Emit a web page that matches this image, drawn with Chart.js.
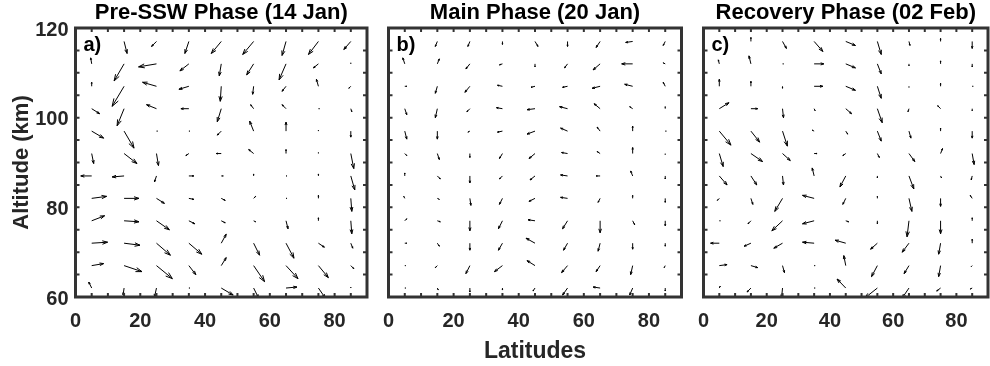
<!DOCTYPE html>
<html>
  <head>
    <title>Meridional circulation - quiver panels</title>
    <script src="https://cdn.jsdelivr.net/npm/chart.js"></script>
    <style>
      html,
      body {
        margin: 0;
        padding: 0;
        background: #ffffff;
        overflow: hidden;
      }
      canvas {
        position: absolute;
        left: 0;
        top: 0;
      }
    </style>
  </head>
  <body>
    <canvas id="chartA" width="1000" height="366"></canvas>
    <canvas id="chartB" width="1000" height="366"></canvas>
    <canvas id="chartC" width="1000" height="366"></canvas>

    <script>
      // grid of the vectors
      const latitudes = [5, 15, 25, 35, 45, 55, 65, 75, 85];
      const altitudes = [117, 112, 107, 102, 97, 92, 87, 82, 77, 72, 67, 62];
      const xTickLabels = [0, 20, 40, 60, 80];
      const yTickLabels = [60, 80, 100, 120];

      // meridional (u, +poleward) and vertical (w, +up) components, rows top -> bottom
      const preU = [
        [0, 3, -5, -4, -10, -11, -4, -10, -7],
        [-1, -10, -18, -9, -2, -7, -7, -5, 0],
        [0, -12, -14, -10, -1, -1, -4, -2, -2],
        [8, -7, -10, -8, -4, -3, -4, 1, 1],
        [12, 10, 1, 1, -4, -4, 0, 0, 0],
        [2, 13, 2, -3, -5, -5, 0, 0, 3],
        [-11, -12, -2, 5, 2, 0, 1, 0, 4],
        [15, 15, 8, 5, 4, 2, 1, 0, 1],
        [13, 15, 13, 6, 4, 2, 2, 0, 1],
        [16, 16, 14, 13, 5, 6, 8, 6, 2],
        [12, 18, 16, 7, 5, 11, 12, 10, 3],
        [-3, -1, -2, 1, 12, 5, 11, 7, 0],
      ];
      const preW = [
        [0, -12, -5, -12, -12, -13, -14, -13, -8],
        [6, -17, -3, -7, -12, -11, -16, -4, 1],
        [4, -20, 4, -3, -15, -8, -5, 7, -2],
        [-5, -17, 4, 0, -13, 4, 4, 0, -3],
        [-7, -17, 0, 0, -4, 10, 9, 1, -6],
        [-10, -10, -12, -2, 0, 4, 4, 1, -15],
        [0, -1, -6, 0, 0, 2, 0, 2, -14],
        [2, 0, -5, -1, -2, 2, 0, 3, -13],
        [5, -1, -9, -3, -2, -1, -8, 3, -13],
        [1, -2, -12, -11, 9, -12, -15, -4, -5],
        [2, -6, -13, -9, 8, -16, -13, -12, -3],
        [6, -7, -9, 0, -7, -10, 1, -10, 1],
      ];

      const mainU = [
        [0, -2, -2, 0, 3, 0, -4, -7, -2],
        [-2, 2, -4, -3, 0, -3, -7, -11, -2],
        [2, -2, -5, -5, -4, -5, -8, -8, -2],
        [2, -2, -3, -6, -8, -8, -6, -3, 0],
        [2, 0, -2, -5, -8, -7, -3, 0, 1],
        [2, 2, 0, -3, -6, -6, -3, 0, 0],
        [0, 3, 0, -3, -5, -7, -4, -2, 0],
        [-1, 2, 1, -3, -6, -7, -2, 0, 0],
        [2, 3, 0, -4, -7, -5, 0, 2, 0],
        [2, 2, 0, -4, -9, -4, -2, 0, 0],
        [1, -2, -4, -8, -8, -6, -4, -2, -1],
        [1, 1, 0, 0, -2, -5, -7, -3, 0],
      ];
      const mainW = [
        [0, -5, -5, -3, -5, -5, -6, -1, -4],
        [6, 5, -5, -1, -3, -4, -6, 0, 1],
        [0, -7, -6, 1, -1, -1, -2, 2, 4],
        [-6, -9, -3, 1, -1, 2, 5, 2, 2],
        [-8, -8, -1, -1, -3, 3, 4, 5, 0],
        [-2, -6, -4, -5, -5, 1, 2, 6, -1],
        [3, -3, -7, -3, -4, 1, 0, 5, -3],
        [2, -1, -7, -6, -3, 1, -4, 3, -4],
        [2, -1, -10, -8, 1, -8, -12, -4, -5],
        [0, -3, -7, -7, 5, -7, -8, -6, -3],
        [0, -2, -8, -6, 5, -7, -6, -9, -2],
        [0, -2, -4, -2, -3, -7, 1, -7, -3],
      ];

      const recU = [
        [0, 0, 4, 9, 10, 4, 1, 0, 0],
        [-1, -2, 1, 10, 10, 4, 0, 0, 0],
        [0, 0, 0, 9, 10, 4, 0, 0, 1],
        [10, 7, 1, 1, 6, 5, -1, -3, 0],
        [12, 9, 5, -2, 2, 4, 2, 0, 0],
        [4, 12, 8, 3, -3, 2, 6, 2, 2],
        [8, 6, 1, -2, -6, 0, 5, 1, -1],
        [-2, 2, -8, -12, -3, 0, 3, 0, -2],
        [1, -3, -11, -12, 3, 0, -2, 0, 0],
        [-9, -7, -9, -12, -11, -7, -7, -2, 0],
        [8, 7, 2, 1, -2, -6, -5, -2, -1],
        [1, -4, -1, 1, -9, -13, -7, -4, -2],
      ];
      const recW = [
        [0, 4, -7, -10, -4, -13, -4, 3, -7],
        [4, 8, 0, 0, -4, -10, -2, 3, -3],
        [7, 5, -2, 0, -4, -12, -1, 3, 0],
        [6, 0, -9, -2, -5, -14, -3, 3, -2],
        [-14, -11, -15, 1, -3, -10, -7, 3, -7],
        [-13, -8, -7, 0, -2, -4, -8, 5, -11],
        [-9, -9, -9, 8, -11, -2, -13, -2, -4],
        [-2, -6, -13, 3, -6, 2, -13, -8, 3],
        [0, -3, -10, -3, -1, -3, -16, -13, 3],
        [0, -3, -5, 1, 3, -6, -9, -11, 4],
        [1, -2, -7, 0, 10, -11, -8, -11, -1],
        [2, -4, -10, 0, 9, -10, -10, -3, -1],
      ];

      // quiver scaling: vector units -> degrees / km
      const LAT_PER_U = 0.307;
      const KM_PER_W = 0.2235;

      const FONT = "'Liberation Sans', Arial, Helvetica, sans-serif";
      const AXIS_COLOR = "#262626";

      const quiverPlugin = {
        id: "quiver",
        afterDatasetsDraw(chart) {
          const { ctx, chartArea: a } = chart;
          const xs = chart.scales.x;
          const ys = chart.scales.y;
          ctx.save();
          ctx.beginPath();
          ctx.rect(a.left, a.top, a.right - a.left, a.bottom - a.top);
          ctx.clip();
          ctx.strokeStyle = "#000";
          ctx.lineWidth = 1;
          chart.data.datasets[0].data.forEach((p) => {
            const x0 = xs.getPixelForValue(p.x);
            const y0 = ys.getPixelForValue(p.y);
            const x1 = xs.getPixelForValue(p.x + p.u * LAT_PER_U);
            const y1 = ys.getPixelForValue(p.y + p.w * KM_PER_W);
            const dx = x1 - x0,
              dy = y1 - y0;
            if (Math.abs(dx) + Math.abs(dy) < 0.1) return;
            const al = 0.33,
              be = 0.33;
            ctx.beginPath();
            ctx.moveTo(x0, y0);
            ctx.lineTo(x1, y1);
            ctx.moveTo(x1 - al * (dx + be * dy), y1 - al * (dy - be * dx));
            ctx.lineTo(x1, y1);
            ctx.lineTo(x1 - al * (dx - be * dy), y1 - al * (dy + be * dx));
            ctx.stroke();
          });
          ctx.restore();
        },
      };

      const framePlugin = {
        id: "frame",
        afterDraw(chart, args, opts) {
          const { ctx, chartArea: a } = chart;
          const xs = chart.scales.x;
          const ys = chart.scales.y;
          ctx.save();
          ctx.strokeStyle = "#333333";
          ctx.lineWidth = 2;
          ctx.beginPath();
          xs.ticks.forEach((t) => {
            const px = xs.getPixelForValue(t.value);
            ctx.moveTo(px, a.bottom);
            ctx.lineTo(px, a.bottom - 4);
            ctx.moveTo(px, a.top);
            ctx.lineTo(px, a.top + 4);
          });
          ys.ticks.forEach((t) => {
            const py = ys.getPixelForValue(t.value);
            ctx.moveTo(a.left, py);
            ctx.lineTo(a.left + 4, py);
            ctx.moveTo(a.right, py);
            ctx.lineTo(a.right - 4, py);
          });
          ctx.stroke();
          ctx.lineWidth = 3;
          ctx.strokeRect(a.left, a.top, a.right - a.left, a.bottom - a.top);
          ctx.fillStyle = "#000";
          ctx.font = "bold 20px " + FONT;
          ctx.textBaseline = "alphabetic";
          ctx.fillText(opts.letter, a.left + 8, a.top + 23);
          ctx.restore();
        },
      };

      function makePanel(id, letter, title, U, W, box) {
        const points = [];
        altitudes.forEach((alt, r) =>
          latitudes.forEach((lat, c) =>
            points.push({ x: lat, y: alt, u: U[r][c], w: W[r][c] })
          )
        );
        return new Chart(document.getElementById(id), {
          type: "scatter",
          data: {
            datasets: [{ data: points, pointRadius: 0, pointHoverRadius: 0 }],
          },
          options: {
            responsive: false,
            animation: false,
            events: [],
            layout: {
              padding: { left: box.left - box.yw, right: 1000 - box.right, top: 0, bottom: 0 },
            },
            plugins: {
              legend: { display: false },
              tooltip: { enabled: false },
              frame: { letter: letter },
            },
            scales: {
              x: {
                type: "linear",
                position: "bottom",
                min: 0,
                max: 90,
                grid: { display: false, drawTicks: false },
                border: { display: false },
                ticks: {
                  stepSize: 5,
                  autoSkip: false,
                  maxRotation: 0,
                  padding: 12,
                  color: AXIS_COLOR,
                  font: { family: FONT, size: 20, weight: "bold" },
                  callback: (v) => (xTickLabels.includes(v) ? String(v) : ""),
                },
                title: {
                  display: box.xTitle,
                  text: "Latitudes",
                  color: AXIS_COLOR,
                  padding: { top: 0, bottom: 1 },
                  font: { family: FONT, size: 23, weight: "bold" },
                },
                afterFit: (s) => {
                  s.height = 69;
                },
              },
              xTop: {
                type: "linear",
                position: "top",
                axis: "x",
                min: 0,
                max: 90,
                grid: { display: false, drawTicks: false },
                border: { display: false },
                ticks: { display: false },
                title: {
                  display: true,
                  text: title,
                  color: "#000",
                  padding: { top: 0, bottom: 0 },
                  font: { family: FONT, size: 22, weight: "bold" },
                },
                afterFit: (s) => {
                  s.height = 28;
                },
              },
              y: {
                type: "linear",
                position: "left",
                min: 60,
                max: 120,
                grid: { display: false, drawTicks: false },
                border: { display: false },
                ticks: {
                  display: box.yLabels,
                  stepSize: 5,
                  autoSkip: false,
                  padding: 7,
                  labelOffset: 2,
                  color: AXIS_COLOR,
                  font: { family: FONT, size: 20, weight: "bold" },
                  callback: (v) => (yTickLabels.includes(v) ? String(v) : ""),
                },
                title: {
                  display: box.yLabels,
                  text: "Altitude (km)",
                  color: AXIS_COLOR,
                  padding: { top: 9, bottom: 0 },
                  font: { family: FONT, size: 22, weight: "bold" },
                },
                afterFit: (s) => {
                  s.width = box.yw;
                },
              },
            },
          },
          plugins: [quiverPlugin, framePlugin],
        });
      }

      makePanel("chartA", "a)", "Pre-SSW Phase (14 Jan)", preU, preW, {
        left: 75.5, right: 367, yw: 75.5, yLabels: true, xTitle: false,
      });
      makePanel("chartB", "b)", "Main Phase (20 Jan)", mainU, mainW, {
        left: 388.5, right: 681.5, yw: 10, yLabels: false, xTitle: true,
      });
      makePanel("chartC", "c)", "Recovery Phase (02 Feb)", recU, recW, {
        left: 703.5, right: 996.5, yw: 10, yLabels: false, xTitle: false,
      });
    </script>
  </body>
</html>
